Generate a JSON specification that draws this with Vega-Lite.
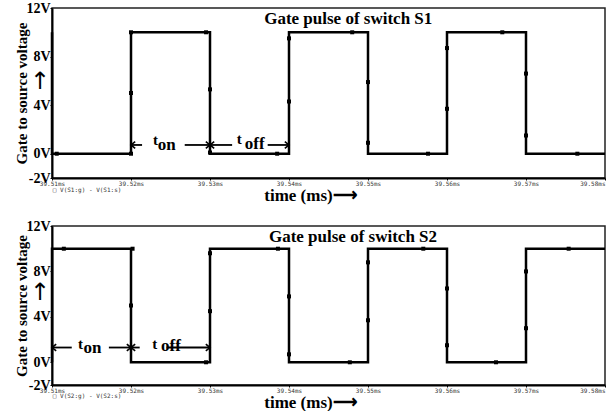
{
  "$schema": "https://vega.github.io/schema/vega-lite/v6.json",
  "padding": {"left": 14, "top": 0, "right": 0, "bottom": 0},
  "background": "white",
  "bounds": "flush",
  "spacing": 48,
  "config": {
    "view": {"stroke": "#222", "strokeWidth": 1.5},
    "axisX": {
      "labelFont": "DejaVu Sans Mono",
      "labelFontSize": 6,
      "labelColor": "#333",
      "labelPadding": 0,
      "tickSize": 2,
      "tickColor": "black",
      "domainColor": "black",
      "domainWidth": 2,
      "grid": false,
      "titleFont": "Liberation Serif",
      "titleFontSize": 17,
      "titleFontWeight": "bold",
      "titleColor": "black",
      "titlePadding": 1
    },
    "axisY": {
      "labelFont": "Liberation Serif",
      "labelFontWeight": "bold",
      "labelFontSize": 14,
      "labelColor": "black",
      "labelPadding": 0,
      "tickSize": 2,
      "tickColor": "black",
      "domainColor": "black",
      "domainWidth": 2,
      "grid": false,
      "titleFont": "Liberation Serif",
      "titleFontSize": 15,
      "titleFontWeight": "bold",
      "titleColor": "black",
      "titlePadding": -4
    }
  },
  "datasets": {
    "s1": [
      {"i": 0, "t": 39.51, "v": 10}, {"i": 1, "t": 39.51, "v": 0},
      {"i": 2, "t": 39.52, "v": 0}, {"i": 3, "t": 39.52, "v": 10},
      {"i": 4, "t": 39.53, "v": 10}, {"i": 5, "t": 39.53, "v": 0},
      {"i": 6, "t": 39.54, "v": 0}, {"i": 7, "t": 39.54, "v": 10},
      {"i": 8, "t": 39.55, "v": 10}, {"i": 9, "t": 39.55, "v": 0},
      {"i": 10, "t": 39.56, "v": 0}, {"i": 11, "t": 39.56, "v": 10},
      {"i": 12, "t": 39.57, "v": 10}, {"i": 13, "t": 39.57, "v": 0},
      {"i": 14, "t": 39.58, "v": 0}
    ],
    "s2": [
      {"i": 0, "t": 39.51, "v": 0}, {"i": 1, "t": 39.51, "v": 10},
      {"i": 2, "t": 39.52, "v": 10}, {"i": 3, "t": 39.52, "v": 0},
      {"i": 4, "t": 39.53, "v": 0}, {"i": 5, "t": 39.53, "v": 10},
      {"i": 6, "t": 39.54, "v": 10}, {"i": 7, "t": 39.54, "v": 0},
      {"i": 8, "t": 39.55, "v": 0}, {"i": 9, "t": 39.55, "v": 10},
      {"i": 10, "t": 39.56, "v": 10}, {"i": 11, "t": 39.56, "v": 0},
      {"i": 12, "t": 39.57, "v": 0}, {"i": 13, "t": 39.57, "v": 10},
      {"i": 14, "t": 39.58, "v": 10}
    ],
    "d1": [
      {"t": 39.5106, "v": 0}, {"t": 39.52, "v": 0}, {"t": 39.52, "v": 5.0}, {"t": 39.52, "v": 10},
      {"t": 39.5295, "v": 10}, {"t": 39.53, "v": 5.3}, {"t": 39.53, "v": 0.1},
      {"t": 39.5385, "v": 0}, {"t": 39.54, "v": 4.3}, {"t": 39.54, "v": 9.5},
      {"t": 39.548, "v": 10}, {"t": 39.55, "v": 5.9}, {"t": 39.55, "v": 0.9},
      {"t": 39.5576, "v": 0}, {"t": 39.56, "v": 3.7}, {"t": 39.56, "v": 8.7},
      {"t": 39.567, "v": 10}, {"t": 39.57, "v": 6.6}, {"t": 39.57, "v": 1.5},
      {"t": 39.5765, "v": 0}
    ],
    "d2": [
      {"t": 39.5115, "v": 10}, {"t": 39.5202, "v": 10}, {"t": 39.52, "v": 5.0},
      {"t": 39.5295, "v": 0}, {"t": 39.53, "v": 4.5}, {"t": 39.53, "v": 9.6},
      {"t": 39.5386, "v": 10}, {"t": 39.54, "v": 5.8}, {"t": 39.54, "v": 0.7},
      {"t": 39.5477, "v": 0}, {"t": 39.55, "v": 3.7}, {"t": 39.55, "v": 8.8},
      {"t": 39.557, "v": 10}, {"t": 39.56, "v": 6.5}, {"t": 39.56, "v": 1.5},
      {"t": 39.5662, "v": 0}, {"t": 39.57, "v": 3.0}, {"t": 39.57, "v": 8.0},
      {"t": 39.5754, "v": 10}
    ],
    "shaft1": [
      {"t": 39.52, "t2": 39.5214, "v": 0.72},
      {"t": 39.5268, "t2": 39.53, "v": 0.72},
      {"t": 39.53, "t2": 39.5328, "v": 0.72},
      {"t": 39.5373, "t2": 39.54, "v": 0.72}
    ],
    "shaft2": [
      {"t": 39.51, "t2": 39.5125, "v": 1.3},
      {"t": 39.5172, "t2": 39.52, "v": 1.3},
      {"t": 39.52, "t2": 39.5211, "v": 1.3},
      {"t": 39.5245, "t2": 39.53, "v": 1.3}
    ],
    "head1": [
      {"t": 39.52, "v": 0.72, "dir": "left"}, {"t": 39.53, "v": 0.72, "dir": "right"},
      {"t": 39.53, "v": 0.72, "dir": "left"}, {"t": 39.54, "v": 0.72, "dir": "right"}
    ],
    "head2": [
      {"t": 39.51, "v": 1.3, "dir": "left"}, {"t": 39.52, "v": 1.3, "dir": "right"},
      {"t": 39.52, "v": 1.3, "dir": "left"}, {"t": 39.53, "v": 1.3, "dir": "right"}
    ],
    "tt1": [{"t": 39.5228, "v": 0.7, "label": "t"}, {"t": 39.5334, "v": 0.8, "label": "t"}],
    "sub1": [{"t": 39.5234, "v": 0.3, "label": "on"}, {"t": 39.5344, "v": 0.35, "label": "off"}],
    "tt2": [{"t": 39.5133, "v": 1.15, "label": "t"}, {"t": 39.5227, "v": 1.2, "label": "t"}],
    "sub2": [{"t": 39.5140, "v": 0.85, "label": "on"}, {"t": 39.5238, "v": 0.95, "label": "off"}],
    "title1": [{"t": 39.5475, "v": 11.1, "label": "Gate pulse of switch S1"}],
    "title2": [{"t": 39.5481, "v": 11.0, "label": "Gate pulse of switch S2"}],
    "leg1": [{"t": 39.5101, "v": -3.0, "label": "□ V(S1:g) - V(S1:s)"}],
    "leg2": [{"t": 39.5101, "v": -3.0, "label": "□ V(S2:g) - V(S2:s)"}],
    "arrow1": [{"t": 39.51, "v": 5.9, "label": "↑"}],
    "arrow2": [{"t": 39.51, "v": 6.1, "label": "↑"}]
  },
  "vconcat": [
    {
      "width": 553,
      "height": 170,
      "encoding": {
        "x": {"field": "t", "type": "quantitative", "scale": {"domain": [39.51, 39.58], "nice": false, "zero": false}, "title": "time (ms)⟶",
          "axis": {"values": [39.51, 39.52, 39.53, 39.54, 39.55, 39.56, 39.57, 39.58], "labelExpr": "format(datum.value, '.2f') + 'ms'", "labelAlign": {"condition": {"test": "datum.value > 39.579", "value": "right"}, "value": "center"}, "titleX": 258}},
        "y": {"field": "v", "type": "quantitative", "scale": {"domain": [-2, 12], "nice": false, "zero": false}, "title": "Gate to source voltage",
          "axis": {"values": [-2, 0, 4, 8, 12], "labelExpr": "datum.value + 'V'"}}
      },
      "layer": [
        {"data": {"name": "s1"}, "mark": {"type": "line", "color": "black", "strokeWidth": 2.5, "strokeJoin": "miter"}, "encoding": {"order": {"field": "i"}}},
        {"data": {"name": "d1"}, "mark": {"type": "point", "shape": "square", "filled": true, "color": "black", "size": 16, "opacity": 1}},
        {"data": {"name": "shaft1"}, "mark": {"type": "rule", "color": "black", "strokeWidth": 1.8}, "encoding": {"x2": {"field": "t2"}}},
        {"data": {"name": "head1"}, "mark": {"type": "point", "filled": false, "color": "black", "strokeWidth": 1.6, "size": 70, "opacity": 1},
          "encoding": {"shape": {"field": "dir", "type": "nominal", "scale": {"domain": ["left", "right"], "range": ["M1,-0.8L0,0L1,0.8", "M-1,-0.8L0,0L-1,0.8"]}, "legend": null}}},
        {"data": {"name": "tt1"}, "mark": {"type": "text", "font": "Liberation Serif", "fontWeight": "bold", "fontSize": 15, "align": "left", "baseline": "alphabetic"}, "encoding": {"text": {"field": "label"}}},
        {"data": {"name": "sub1"}, "mark": {"type": "text", "font": "Liberation Serif", "fontWeight": "bold", "fontSize": 17, "align": "left", "baseline": "alphabetic"}, "encoding": {"text": {"field": "label"}}},
        {"data": {"name": "title1"}, "mark": {"type": "text", "font": "Liberation Serif", "fontWeight": "bold", "fontSize": 17, "align": "center", "baseline": "middle"}, "encoding": {"text": {"field": "label"}}},
        {"data": {"name": "leg1"}, "mark": {"type": "text", "font": "DejaVu Sans Mono", "fontSize": 6, "color": "#333", "align": "left", "baseline": "middle"}, "encoding": {"text": {"field": "label"}}},
        {"data": {"name": "arrow1"}, "mark": {"type": "text", "font": "DejaVu Sans", "fontSize": 24, "dx": -12, "align": "center", "baseline": "middle"}, "encoding": {"text": {"field": "label"}}}
      ]
    },
    {
      "width": 553,
      "height": 159,
      "encoding": {
        "x": {"field": "t", "type": "quantitative", "scale": {"domain": [39.51, 39.58], "nice": false, "zero": false}, "title": "time (ms)⟶",
          "axis": {"values": [39.51, 39.52, 39.53, 39.54, 39.55, 39.56, 39.57, 39.58], "labelExpr": "format(datum.value, '.2f') + 'ms'", "labelAlign": {"condition": {"test": "datum.value > 39.579", "value": "right"}, "value": "center"}, "titleX": 258}},
        "y": {"field": "v", "type": "quantitative", "scale": {"domain": [-2, 12], "nice": false, "zero": false}, "title": "Gate to source voltage",
          "axis": {"values": [-2, 0, 4, 8, 12], "labelExpr": "datum.value + 'V'"}}
      },
      "layer": [
        {"data": {"name": "s2"}, "mark": {"type": "line", "color": "black", "strokeWidth": 2.5, "strokeJoin": "miter"}, "encoding": {"order": {"field": "i"}}},
        {"data": {"name": "d2"}, "mark": {"type": "point", "shape": "square", "filled": true, "color": "black", "size": 16, "opacity": 1}},
        {"data": {"name": "shaft2"}, "mark": {"type": "rule", "color": "black", "strokeWidth": 1.8}, "encoding": {"x2": {"field": "t2"}}},
        {"data": {"name": "head2"}, "mark": {"type": "point", "filled": false, "color": "black", "strokeWidth": 1.6, "size": 70, "opacity": 1},
          "encoding": {"shape": {"field": "dir", "type": "nominal", "scale": {"domain": ["left", "right"], "range": ["M1,-0.8L0,0L1,0.8", "M-1,-0.8L0,0L-1,0.8"]}, "legend": null}}},
        {"data": {"name": "tt2"}, "mark": {"type": "text", "font": "Liberation Serif", "fontWeight": "bold", "fontSize": 15, "align": "left", "baseline": "alphabetic"}, "encoding": {"text": {"field": "label"}}},
        {"data": {"name": "sub2"}, "mark": {"type": "text", "font": "Liberation Serif", "fontWeight": "bold", "fontSize": 17, "align": "left", "baseline": "alphabetic"}, "encoding": {"text": {"field": "label"}}},
        {"data": {"name": "title2"}, "mark": {"type": "text", "font": "Liberation Serif", "fontWeight": "bold", "fontSize": 17, "align": "center", "baseline": "middle"}, "encoding": {"text": {"field": "label"}}},
        {"data": {"name": "leg2"}, "mark": {"type": "text", "font": "DejaVu Sans Mono", "fontSize": 6, "color": "#333", "align": "left", "baseline": "middle"}, "encoding": {"text": {"field": "label"}}},
        {"data": {"name": "arrow2"}, "mark": {"type": "text", "font": "DejaVu Sans", "fontSize": 24, "dx": -12, "align": "center", "baseline": "middle"}, "encoding": {"text": {"field": "label"}}}
      ]
    }
  ]
}
